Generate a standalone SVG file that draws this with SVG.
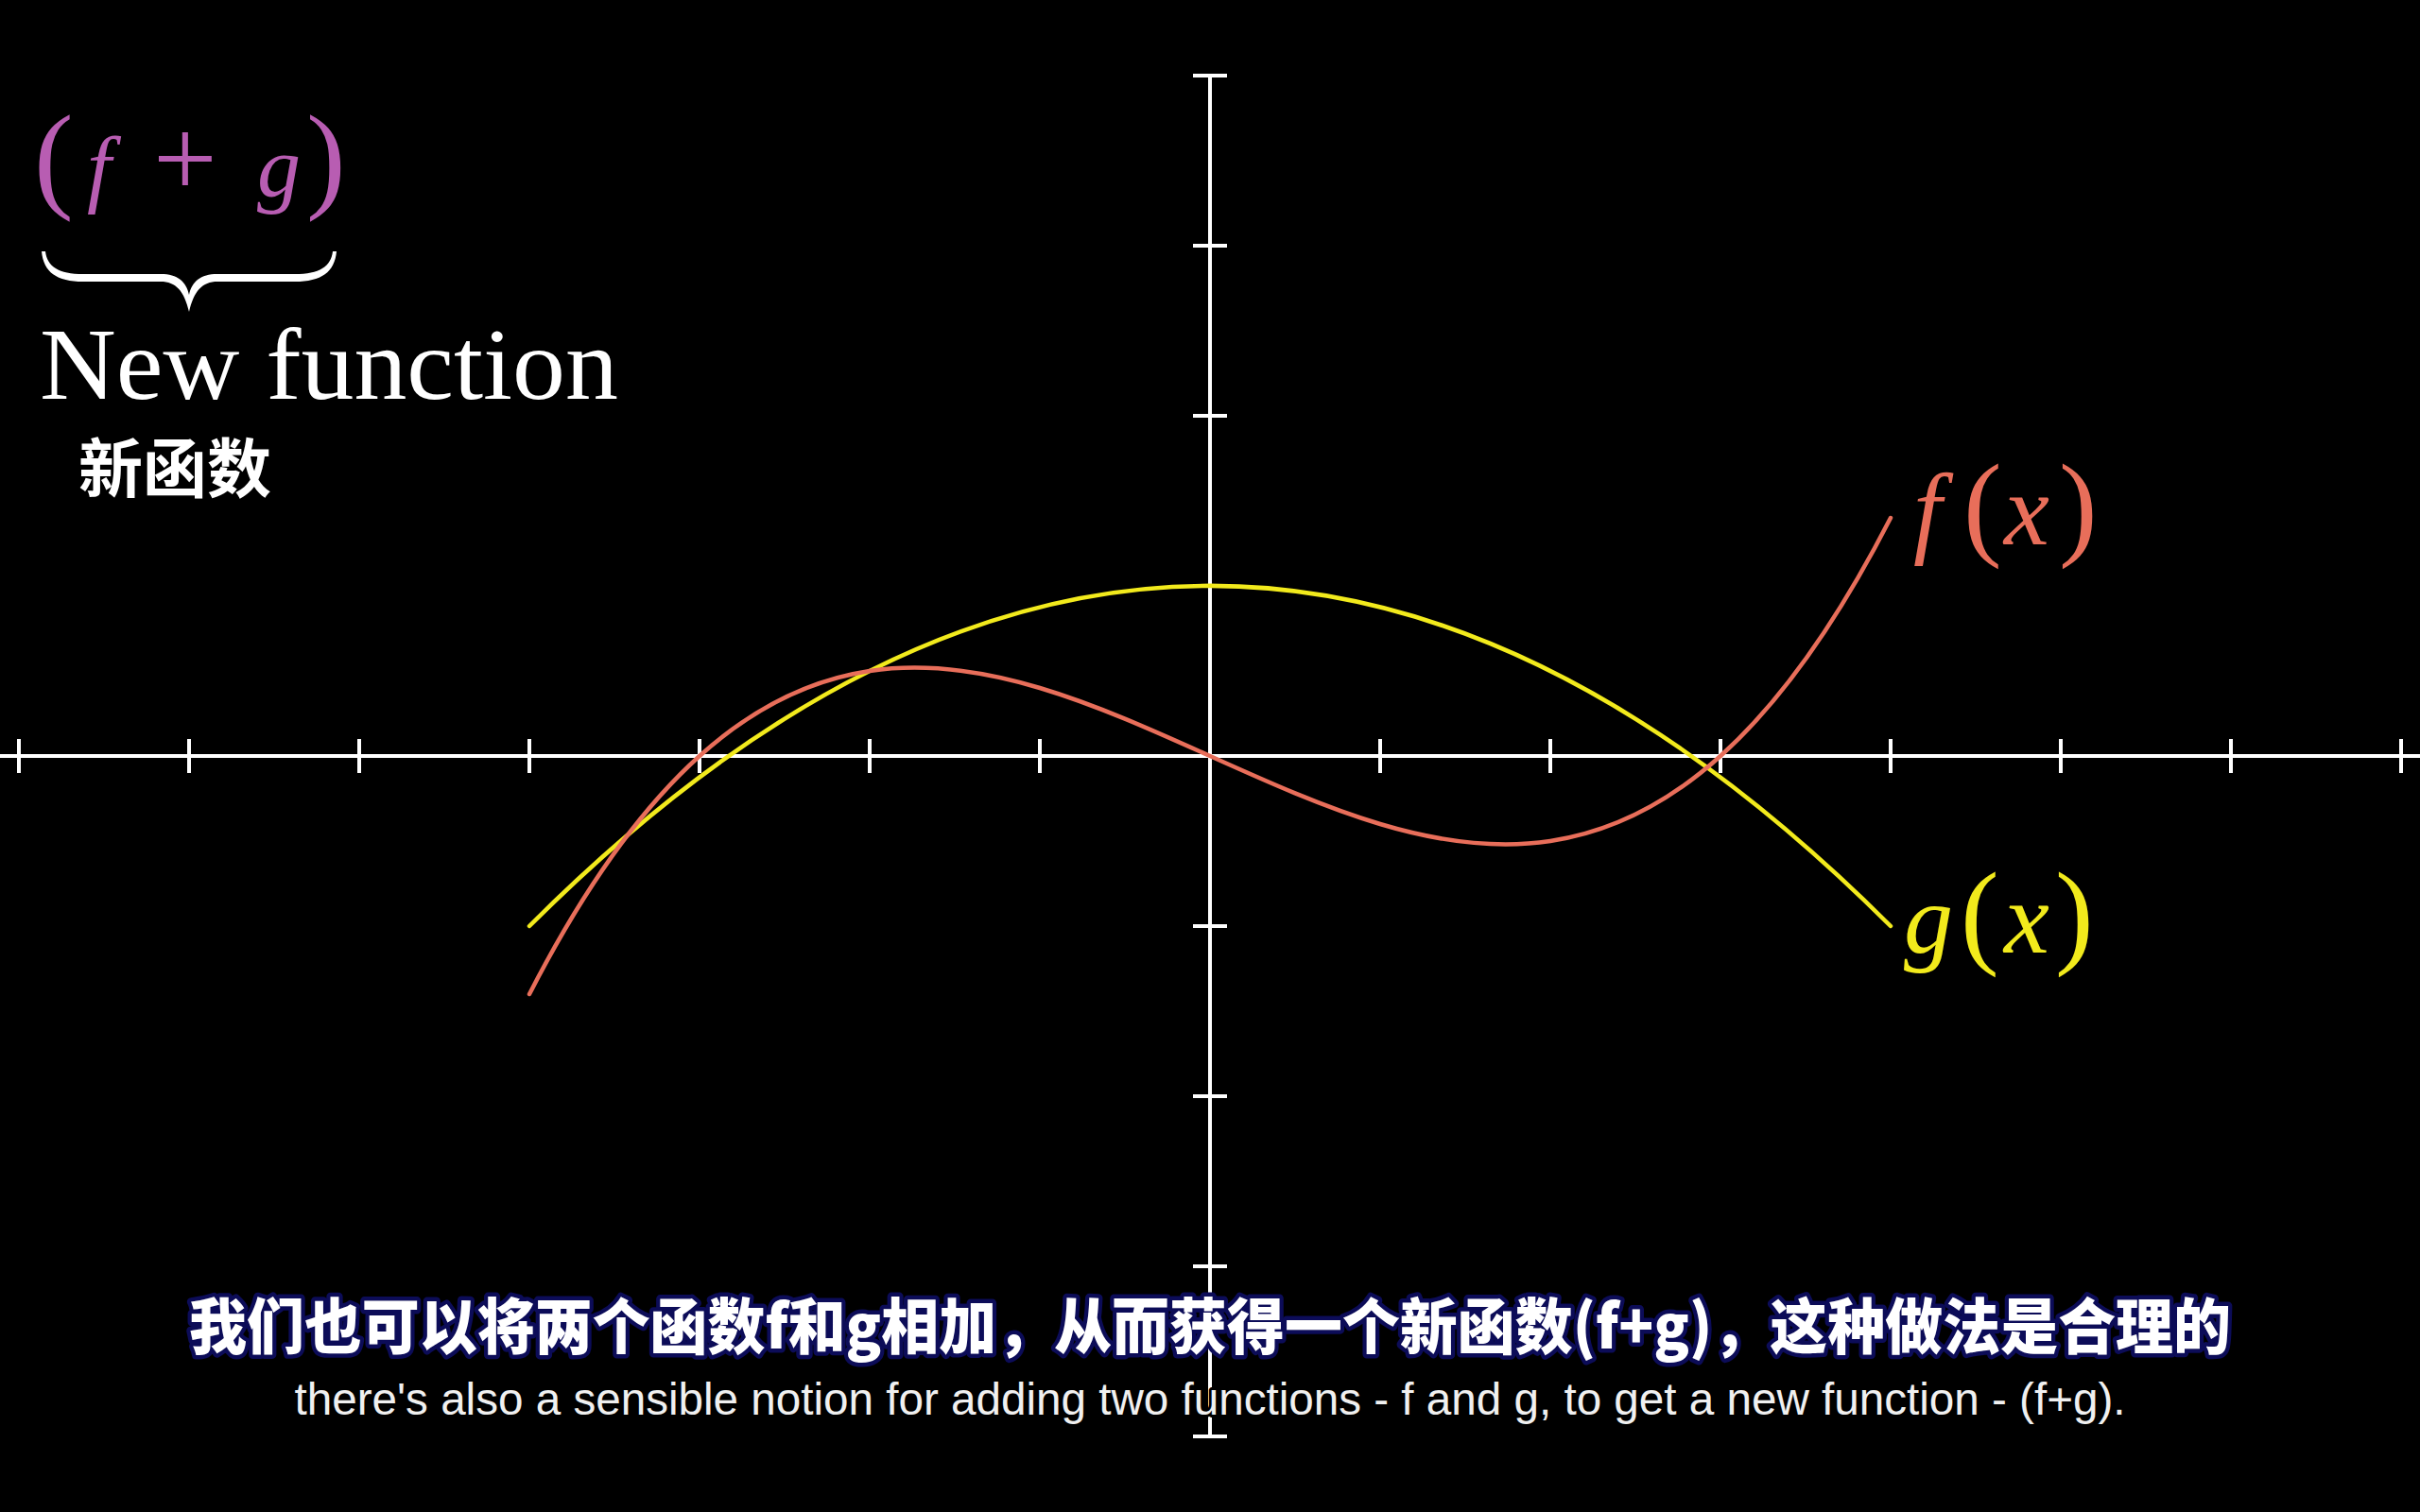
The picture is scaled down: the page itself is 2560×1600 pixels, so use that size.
<svg xmlns="http://www.w3.org/2000/svg" width="2560" height="1600" viewBox="0 0 2560 1600">
  <style>
    .axis { stroke: #ffffff; stroke-width: 4; fill: none; stroke-linecap: butt; }
    .tick { stroke: #ffffff; stroke-width: 4; }
    .curve { fill: none; stroke-width: 4.5; stroke-linecap: round; }
    .math { font-family: "Liberation Serif", "DejaVu Serif", serif; }
    .it { font-style: italic; }
    .zh-sub { font-family: "Noto Sans CJK SC", "Noto Sans", sans-serif; font-weight: 900; font-size: 64px; fill: #ffffff; stroke: #0c0c58; stroke-width: 9; stroke-linejoin: round; paint-order: stroke; }
    .en-sub { font-family: "Liberation Sans", Arial, sans-serif; font-size: 48px; fill: #f0f0f0; stroke: #000000; stroke-width: 6; stroke-linejoin: round; paint-order: stroke; }
  </style>
  <rect x="0" y="0" width="2560" height="1600" fill="#000000"/>

  <g id="axes">
    <line class="axis" x1="0" y1="800" x2="2560" y2="800"/>
    <line class="axis" x1="1280" y1="80" x2="1280" y2="1520"/>
    <g id="x-ticks">
      <line class="tick" x1="20" y1="782" x2="20" y2="818"/>
      <line class="tick" x1="200" y1="782" x2="200" y2="818"/>
      <line class="tick" x1="380" y1="782" x2="380" y2="818"/>
      <line class="tick" x1="560" y1="782" x2="560" y2="818"/>
      <line class="tick" x1="740" y1="782" x2="740" y2="818"/>
      <line class="tick" x1="920" y1="782" x2="920" y2="818"/>
      <line class="tick" x1="1100" y1="782" x2="1100" y2="818"/>
      <line class="tick" x1="1460" y1="782" x2="1460" y2="818"/>
      <line class="tick" x1="1640" y1="782" x2="1640" y2="818"/>
      <line class="tick" x1="1820" y1="782" x2="1820" y2="818"/>
      <line class="tick" x1="2000" y1="782" x2="2000" y2="818"/>
      <line class="tick" x1="2180" y1="782" x2="2180" y2="818"/>
      <line class="tick" x1="2360" y1="782" x2="2360" y2="818"/>
      <line class="tick" x1="2540" y1="782" x2="2540" y2="818"/>
    </g>
    <g id="y-ticks">
      <line class="tick" x1="1262" y1="80" x2="1298" y2="80"/>
      <line class="tick" x1="1262" y1="260" x2="1298" y2="260"/>
      <line class="tick" x1="1262" y1="440" x2="1298" y2="440"/>
      <line class="tick" x1="1262" y1="620" x2="1298" y2="620"/>
      <line class="tick" x1="1262" y1="980" x2="1298" y2="980"/>
      <line class="tick" x1="1262" y1="1160" x2="1298" y2="1160"/>
      <line class="tick" x1="1262" y1="1340" x2="1298" y2="1340"/>
      <line class="tick" x1="1262" y1="1520" x2="1298" y2="1520"/>
    </g>
  </g>

  <g id="curve-g">
    <path class="curve" stroke="#f2ea1c" d="M560,980 Q1280,260 2000,980"/>
  </g>
  <g id="curve-f">
    <path class="curve" stroke="#e86e5a" d="M560,1052 C1040,116 1520,1484 2000,548"/>
  </g>

  <g id="label-f" class="math" fill="#e86e5a">
    <text y="576"><tspan x="2024" class="it" font-size="108">f</tspan><tspan x="2077" font-size="122">(</tspan><tspan x="2120" class="it" font-size="108">x</tspan><tspan x="2178" font-size="122">)</tspan></text>
  </g>
  <g id="label-g" class="math" fill="#f2ea1c">
    <text y="1008"><tspan x="2014" class="it" font-size="104">g</tspan><tspan x="2074" font-size="122">(</tspan><tspan x="2120" class="it" font-size="108">x</tspan><tspan x="2174" font-size="122">)</tspan></text>
  </g>

  <g id="title-fg" class="math" fill="#b85db2">
    <text y="208"><tspan x="36" font-size="125">(</tspan><tspan x="92" class="it" font-size="92">f</tspan><tspan x="162" font-size="120">+</tspan><tspan x="272" class="it" font-size="92">g</tspan><tspan x="324" font-size="125">)</tspan></text>
  </g>

  <g id="brace">
    <path fill="#ffffff" d="M44,266 C46,288 60,298 88,298 L170,298 C186,298 195,308 200,330 C205,308 214,298 230,298 L312,298 C340,298 354,288 356,266 L352,266 C350,282 338,290 312,290 L230,290 C212,290 203,298 200,312 C197,298 188,290 170,290 L88,290 C62,290 50,282 48,266 Z"/>
  </g>

  <g id="new-function">
    <text class="math" x="42" y="422" font-size="108" fill="#ffffff" textLength="612" lengthAdjust="spacingAndGlyphs">New function</text>
    <text x="83" y="521" font-family="'Noto Sans CJK SC', sans-serif" font-weight="700" font-size="68" fill="#ffffff">新函数</text>
  </g>

  <g id="subtitles">
    <text id="subtitle-zh" class="zh-sub" x="1280" y="1427" text-anchor="middle" textLength="2160" lengthAdjust="spacingAndGlyphs">我们也可以将两个函数f和g相加，从而获得一个新函数(f+g)，这种做法是合理的</text>
    <text id="subtitle-en" class="en-sub" x="1280" y="1497" text-anchor="middle" textLength="1937" lengthAdjust="spacingAndGlyphs">there's also a sensible notion for adding two functions - f and g, to get a new function - (f+g).</text>
  </g>
</svg>
